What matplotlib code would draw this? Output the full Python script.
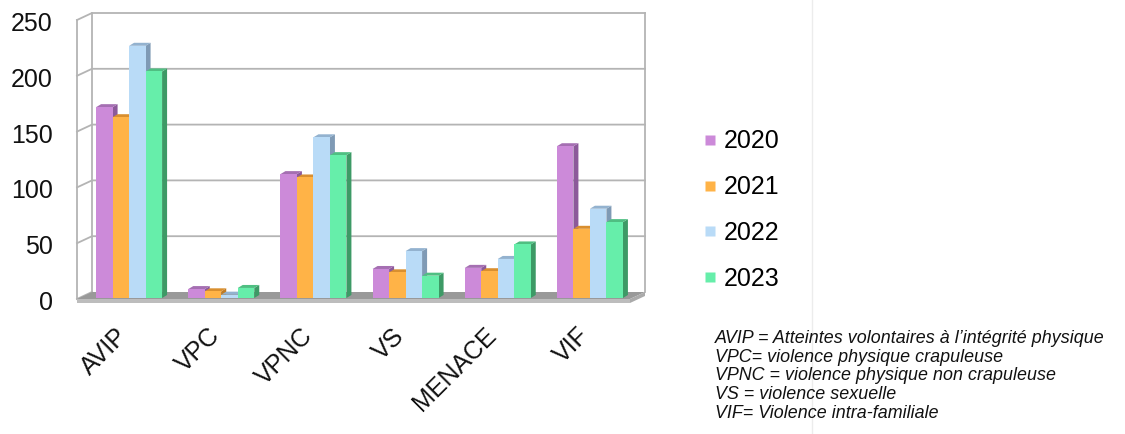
import numpy as np
import matplotlib
matplotlib.use("Agg")
import matplotlib.pyplot as plt
from matplotlib.patches import Polygon
from matplotlib.lines import Line2D

plt.rcParams["font.family"] = ["Liberation Sans", "DejaVu Sans"]

categories = ["AVIP", "VPC", "VPNC", "VS", "MENACE", "VIF"]
years      = ["2020", "2021", "2022", "2023"]
v2020 = [171, 8, 111, 26, 27, 136]
v2021 = [162, 6, 108, 23, 24, 62]
v2022 = [226, 3, 144, 42, 35, 80]
v2023 = [203, 9, 128, 20, 48, 68]
series = [v2020, v2021, v2022, v2023]

face_colors = ["#cc8ad9", "#ffb347", "#b9dbf7", "#66eeaa"]
side_colors = ["#8c5a9a", "#c07c24", "#7f9ab5", "#3d9a66"]
top_colors  = ["#a56fb2", "#d98f2f", "#93b2cf", "#4fbf82"]
notes = [
    "AVIP = Atteintes volontaires à l\u2019intégrité physique",
    "VPC= violence physique crapuleuse",
    "VPNC = violence physique non crapuleuse",
    "VS = violence sexuelle",
    "VIF= Violence intra-familiale",
]

W, H = 1125, 434
fig = plt.figure(figsize=(W / 100, H / 100), dpi=100)

# front plane of the 3D box, in pixels
x0, x1 = 77, 630
y0, y1 = 299, 20
ax = fig.add_axes([x0 / W, (H - y0) / H, (x1 - x0) / W, (y0 - y1) / H])
ax.set_xlim(-0.5, 5.5)
ax.set_ylim(0, 250)
ax.axis("off")

pxx = (x1 - x0) / 6.0      # pixels per x unit
pxy = (y0 - y1) / 250.0    # pixels per y unit


def off(dx, dy):
    return dx / pxx, dy / pxy


grid_c = "#b4b4b4"
bdx, bdy = off(15, 7)
# floor slab
floor_top = [(-0.5, 0), (5.5, 0), (5.5 + bdx, bdy), (-0.5 + bdx, bdy)]
ax.add_patch(Polygon(floor_top, closed=True, fc="#999999", ec="none", clip_on=False, zorder=1))
t = 4 / pxy
floor_front = [(-0.5, 0), (5.5, 0), (5.5, -t), (-0.5, -t)]
ax.add_patch(Polygon(floor_front, closed=True, fc="#bdbdbd", ec="none", clip_on=False, zorder=1))
floor_side = [(5.5, 0), (5.5 + bdx, bdy), (5.5 + bdx, bdy - t), (5.5, -t)]
ax.add_patch(Polygon(floor_side, closed=True, fc="#aaaaaa", ec="none", clip_on=False, zorder=1))

# gridlines on left wall + back wall
for v in range(50, 251, 50):
    ax.plot([-0.5, -0.5 + bdx, 5.5 + bdx], [v, v + bdy, v + bdy],
            color=grid_c, lw=1.3, clip_on=False, zorder=0.5, solid_joinstyle="miter")
ax.plot([-0.5, -0.5], [0, 250], color=grid_c, lw=1.3, clip_on=False, zorder=0.5)
ax.plot([-0.5 + bdx, -0.5 + bdx], [bdy, 250 + bdy], color=grid_c, lw=1.3, clip_on=False, zorder=0.5)
ax.plot([5.5 + bdx, 5.5 + bdx], [bdy, 250 + bdy], color=grid_c, lw=1.3, clip_on=False, zorder=0.5)
ax.plot([-0.5, -0.5 + bdx], [0, bdy], color=grid_c, lw=1.3, clip_on=False, zorder=0.5)

# bars
bw = 16.5 / pxx
fx, fy = off(6, 1)
dx, dy = off(5, 3)
x = np.arange(len(categories))
for i in range(len(categories)):
    for j, vals in enumerate(series):
        v = vals[i]
        left = x[i] + fx + (j - 2) * bw
        right = left + bw
        b, tp = fy, v + fy
        side = [(right, b), (right + dx, b + dy), (right + dx, tp + dy), (right, tp)]
        top = [(left, tp), (right, tp), (right + dx, tp + dy), (left + dx, tp + dy)]
        front = [(left, b), (right, b), (right, tp), (left, tp)]
        z = 2 + i * 0.1 + j * 0.01
        ax.add_patch(Polygon(side, closed=True, fc=side_colors[j], ec="none", clip_on=False, zorder=z))
        ax.add_patch(Polygon(top, closed=True, fc=top_colors[j], ec="none", clip_on=False, zorder=z))
        ax.add_patch(Polygon(front, closed=True, fc=face_colors[j], ec="none", clip_on=False, zorder=z))

# y tick labels
for v in range(0, 251, 50):
    ax.text(-0.5 - 24 / pxx, v - 4 / pxy, str(v), ha="right", va="center",
            fontsize=18, color="#111111")

# category labels
for i, c in enumerate(categories):
    ax.text(x[i] + 1 / pxx, -33 / pxy, c, rotation=45, rotation_mode="anchor",
            ha="right", va="center", fontsize=18, color="#111111")

# legend
handles = [Line2D([], [], marker="s", ls="none", markersize=6.5,
                  markerfacecolor=face_colors[j], markeredgecolor="none") for j in range(4)]
fig.legend(handles, years, loc="upper left", bbox_to_anchor=(691 / W, 1 - 117 / H),
           frameon=False, fontsize=18, handlelength=0.5, handletextpad=0.3,
           labelspacing=0.87, borderpad=0)

# faint separator line
fig.add_artist(plt.Line2D([812 / W, 812 / W], [0, 1], color="#ececec", lw=1))

fig.text(715 / W, 1 - 330 / H, "\n".join(notes), ha="left", va="top", fontsize=12.9,
         style="italic", color="#111111", linespacing=1.13)

fig.savefig("out.png", dpi=100)
